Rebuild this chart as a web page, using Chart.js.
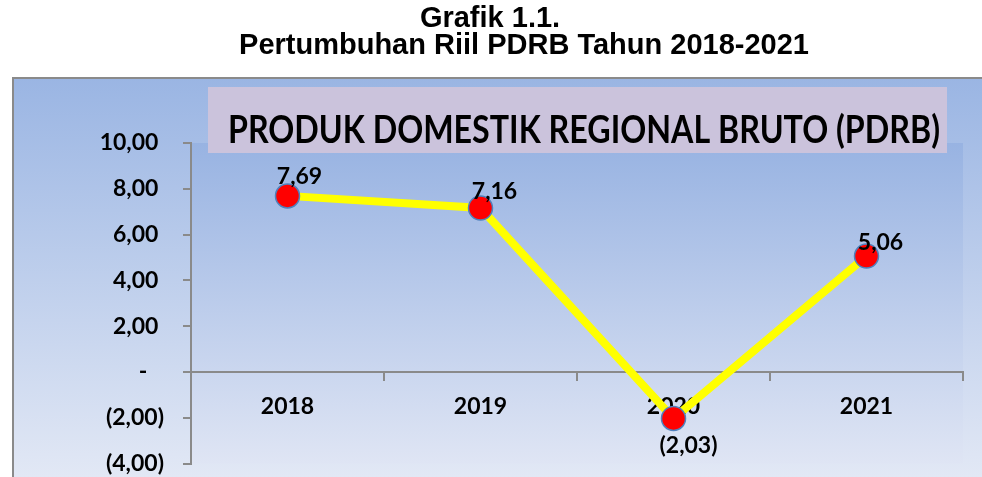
<!DOCTYPE html>
<html><head><meta charset="utf-8">
<script src="https://cdn.jsdelivr.net/npm/chart.js@4"></script>
<style>html,body{margin:0;padding:0;background:#fff;}#wrap{position:relative;width:982px;height:477px;}</style>
</head><body><div id="wrap"><canvas id="c" width="982" height="477"></canvas></div>
<script>
const headerLines = ["Grafik 1.1.", "Pertumbuhan Riil PDRB Tahun 2018-2021"];
const boxTitle = "PRODUK DOMESTIK REGIONAL BRUTO (PDRB)";
const categories = ["2018", "2019", "2020", "2021"];
const pdrbGrowth = [7.69, 7.16, -2.03, 5.06];
const yTicks = [10, 8, 6, 4, 2, 0, -2, -4];

function fmt(v) {
  if (Math.abs(v) < 1e-9) return "-";
  const s = Math.abs(v).toFixed(2).replace(".", ",");
  return v < 0 ? "(" + s + ")" : s;
}
function tickFmt(v) {
  if (Math.abs(v) < 1e-9) return "-   ";
  return v < 0 ? fmt(v) : fmt(v) + " ";
}

const FONT = 'Lato, "Open Sans", sans-serif';

const bgPlugin = {
  id: 'bg',
  beforeDraw(chart) {
    const ctx = chart.ctx, ca = chart.chartArea;
    ctx.save();
    let g = ctx.createLinearGradient(0, 77, 0, 477);
    g.addColorStop(0, '#9ab5e3');
    g.addColorStop(1, '#e2e8f5');
    ctx.fillStyle = g;
    ctx.fillRect(13, 78, 982 - 13, 477 - 78);
    g = ctx.createLinearGradient(0, ca.top, 0, ca.bottom);
    g.addColorStop(0, '#98b3e2');
    g.addColorStop(1, '#dfe5f4');
    ctx.fillStyle = g;
    ctx.fillRect(ca.left, ca.top, ca.right - ca.left, ca.bottom - ca.top);
    ctx.strokeStyle = '#8a8a8a';
    ctx.lineWidth = 2;
    ctx.beginPath();
    ctx.moveTo(13, 477); ctx.lineTo(13, 78); ctx.lineTo(982, 78);
    ctx.stroke();
    ctx.fillStyle = '#000';
    ctx.textAlign = 'center';
    ctx.textBaseline = 'middle';
    ctx.font = 'bold 29px "Liberation Sans", Arial, sans-serif';
    ctx.fillText(headerLines[0], 490, 19);
    ctx.fillText(headerLines[1], 524, 46, 590);
    ctx.fillStyle = '#cbc3dc';
    ctx.fillRect(208, 87, 739, 66);
    ctx.fillStyle = '#000';
    ctx.font = 'bold 38px ' + FONT;
    ctx.fillText(boxTitle, 584, 131, 712);
    ctx.restore();
  }
};

const labelPlugin = {
  id: 'vlabels',
  afterDatasetsDraw(chart) {
    const ctx = chart.ctx;
    const meta = chart.getDatasetMeta(0);
    ctx.save();
    ctx.fillStyle = '#000';
    ctx.font = 'bold 23px ' + FONT;
    ctx.textAlign = 'center';
    ctx.textBaseline = 'middle';
    const offs = [[12, -19], [14, -16], [15, 27], [14, -14]];
    meta.data.forEach((pt, i) => {
      ctx.fillText(fmt(pdrbGrowth[i]), pt.x + offs[i][0], pt.y + offs[i][1]);
    });
    ctx.restore();
  }
};

new Chart(document.getElementById('c'), {
  type: 'line',
  data: {
    labels: categories,
    datasets: [{
      data: pdrbGrowth,
      borderColor: '#ffff00',
      borderWidth: 8,
      pointRadius: 12,
      pointBackgroundColor: '#ff0000',
      pointBorderColor: '#4f81bd',
      pointBorderWidth: 1.5,
      tension: 0
    }]
  },
  options: {
    responsive: false,
    animation: false,
    devicePixelRatio: 1,
    layout: { padding: { top: 143, left: 0, right: 19, bottom: 12 } },
    plugins: { legend: { display: false }, tooltip: { enabled: false } },
    scales: {
      y: {
        min: -4, max: 10,
        afterFit(s) { s.width = 191; s.paddingTop = 0; s.paddingBottom = 0; },
        afterBuildTicks(s) { s.ticks = yTicks.map(v => ({ value: v })); },
        ticks: {
          callback: v => tickFmt(v),
          color: '#000',
          padding: 19,
          font: { family: FONT, size: 23, weight: 'bold' }
        },
        grid: { drawOnChartArea: false, drawTicks: true, tickLength: 8, color: '#8a8a8a', lineWidth: 2 },
        border: { display: true, color: '#8a8a8a', width: 2 }
      },
      x: {
        position: { y: 0 },
        offset: true,
        afterFit(s) { s.height = 0; s.paddingLeft = 0; s.paddingRight = 0; },
        ticks: {
          color: '#000',
          padding: 13,
          font: { family: FONT, size: 23, weight: 'bold' }
        },
        grid: { offset: true, drawOnChartArea: false, drawTicks: true, tickLength: 8, color: '#8a8a8a', lineWidth: 2 },
        border: { display: true, color: '#8a8a8a', width: 2 }
      }
    }
  },
  plugins: [bgPlugin, labelPlugin]
});
</script></body></html>
